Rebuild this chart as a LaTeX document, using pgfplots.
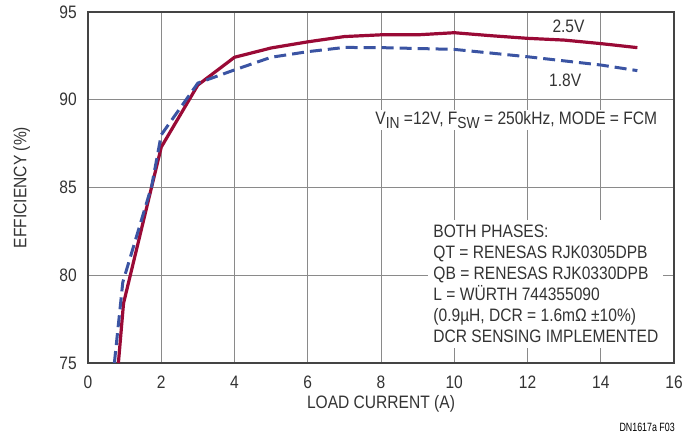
\documentclass[border=0pt]{standalone}
\usepackage{fontspec}
\setmainfont{Liberation Sans}[FakeStretch=0.865]
\newfontfamily\notefont{Liberation Sans}[FakeStretch=0.74]
\usepackage{pgfplots}
\pgfplotsset{compat=1.18}

\definecolor{txt}{HTML}{333333}
\definecolor{axln}{HTML}{444444}
\definecolor{grd}{HTML}{8A8A8A}
\definecolor{curveA}{HTML}{9A0A36}
\definecolor{curveB}{HTML}{3B54A3}

\newcommand{\sub}[1]{\raisebox{-0.35ex}{\fontsize{16}{16}\selectfont #1}}

\begin{document}
\begin{tikzpicture}
\path[use as bounding box] (0pt,0pt) rectangle (683pt,445pt);
\begin{axis}[
    at={(88pt,82pt)}, anchor=south west,
    scale only axis, width=586pt, height=351pt,
    xmin=0, xmax=16, ymin=75, ymax=95,
    xtick={0,2,...,16}, ytick={75,80,...,95},
    grid=major,
    major grid style={grd, line width=1pt},
    axis line style={axln, line width=2pt},
    major tick length=0pt,
    font=\fontsize{18}{21}\selectfont\color{txt},
    /pgf/number format/assume math mode=true,
    xticklabel style={inner sep=0pt, anchor=north, yshift=-13pt},
    yticklabel style={inner sep=0pt, anchor=east, xshift=-11pt},
    every axis x label/.style={at={(axis description cs:0.5,-0.117)}, anchor=center},
    every axis y label/.style={at={(axis description cs:-0.113,0.5)}, rotate=90, anchor=center},
    xlabel={LOAD CURRENT (A)},
    ylabel={EFFICIENCY (\%)},
  ]
  % 2.5V
  \addplot[curveA, line width=3.2pt, line join=round] coordinates {
    (0.83,75) (0.97,78.4) (2.0,87.3) (3.0,90.84) (4.0,92.42) (5,92.95) (6,93.3)
    (7,93.6) (8,93.7) (9,93.7) (10,93.82) (11,93.65) (12,93.5) (13,93.4)
    (14,93.2) (15,92.97)};
  % 1.8V
  \addplot[curveB, line width=3pt, dash pattern=on 12pt off 6pt] coordinates {
    (0.72,75) (0.95,79.6) (1.74,85.1) (2.0,88.0) (3.0,90.95) (4,91.7) (5,92.42)
    (6,92.74) (7,92.98) (8,92.97) (10,92.87) (12,92.45) (14,91.98) (15,91.66)};

  \node at (axis cs:13.12,94.16) {2.5V};
  \node at (axis cs:13.03,91.13) {1.8V};
  \node[anchor=east, fill=white, inner sep=2pt] at (axis cs:15.6,88.85)
    {V\sub{IN} =12V, F\sub{SW} = 250kHz, MODE = FCM};
  \node[anchor=north west, fill=white, align=left, inner xsep=5pt, inner ysep=5pt] at (axis cs:9.29,83.15)
    {BOTH PHASES:\\
     QT = RENESAS RJK0305DPB\\
     QB = RENESAS RJK0330DPB\\
     L = WÜRTH 744355090\\
     (0.9µH, DCR = 1.6mΩ ±10\%)\\
     DCR SENSING IMPLEMENTED};
\end{axis}
\node[anchor=east, font=\notefont\fontsize{12}{14}\selectfont, text=black, inner sep=0pt]
  at (675pt,18pt) {DN1617a F03};
\end{tikzpicture}
\end{document}
